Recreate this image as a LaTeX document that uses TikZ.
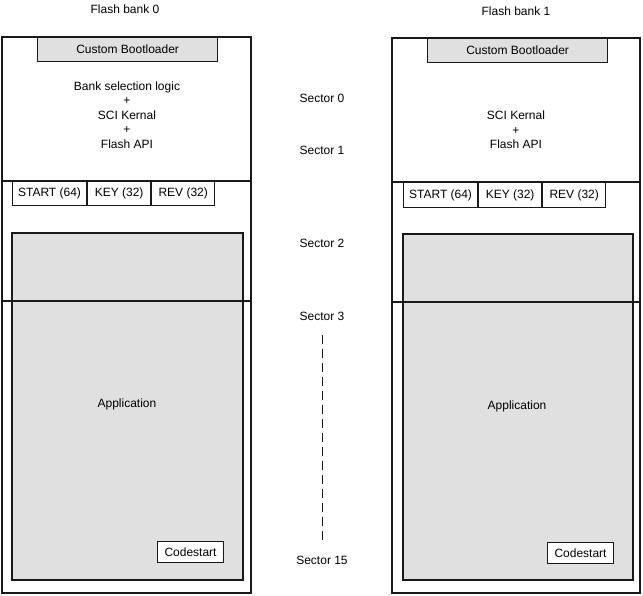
\documentclass[tikz,border=0pt]{standalone}
\usepackage{fontspec}
\setmainfont{Liberation Sans}
\begin{document}
\begin{tikzpicture}[x=1pt,y=-1pt,
  box/.style={draw=black!90,line width=1.3pt},
  gray/.style={box,fill=black!12},
  cell/.style={draw=black!90,line width=1.1pt,fill=white,inner sep=0pt,anchor=north west,font=\fontsize{12}{14}\selectfont},
  txt/.style={font=\fontsize{12}{14.5}\selectfont,align=center,inner sep=0pt},
  div/.style={draw=black!90,line width=1.6pt}]
\useasboundingbox (0,0) rectangle (643,596);
% Bank 0
\node[txt] (t0) at (125,9) {Flash bank 0};
\draw[box] (2,37) rectangle (251,593);
\node[gray,minimum width=180pt,minimum height=24pt,inner sep=0pt,anchor=north west,font=\fontsize{12}{14}\selectfont] (bl0) at (37,37) {Custom Bootloader};
\node[txt] (k0) at (127,115) {Bank selection logic\\+\\SCI Kernal\\+\\Flash API};
\draw[div] (2,181) -- (251,181);
\node[cell,minimum width=74pt,minimum height=24pt] (s0) at (12,181) {START (64)};
\node[cell,minimum width=63pt,minimum height=24pt] (ky0) at (s0.north east) {KEY (32)};
\node[cell,minimum width=63pt,minimum height=24pt] (r0) at (ky0.north east) {REV (32)};
\draw[gray] (12,233) rectangle (243,580);
\draw[div] (2,301) -- (251,301);
\node[txt] (a0) at (127,404) {Application};
\node[cell,minimum width=66pt,minimum height=21pt] (c0) at (157,541) {Codestart};
% Bank 1
\node[txt] (t1) at (516,11) {Flash bank 1};
\draw[box] (392,38) rectangle (640,593);
\node[gray,minimum width=180pt,minimum height=24pt,inner sep=0pt,anchor=north west,font=\fontsize{12}{14}\selectfont] (bl1) at (427,38) {Custom Bootloader};
\node[txt] (k1) at (516,130) {SCI Kernal\\+\\Flash API};
\draw[div] (392,182) -- (640,182);
\node[cell,minimum width=74pt,minimum height=25pt] (s1) at (403,182) {START (64)};
\node[cell,minimum width=63pt,minimum height=25pt] (ky1) at (s1.north east) {KEY (32)};
\node[cell,minimum width=63pt,minimum height=25pt] (r1) at (ky1.north east) {REV (32)};
\draw[gray] (403,234) rectangle (633,580);
\draw[div] (392,302) -- (640,302);
\node[txt] (a1) at (517,406) {Application};
\node[cell,minimum width=66pt,minimum height=21pt] (c1) at (547,542) {Codestart};
% Sectors
\node[txt] (sec0) at (322,98) {Sector 0};
\node[txt] (sec1) at (322,150) {Sector 1};
\node[txt] (sec2) at (322,243) {Sector 2};
\node[txt] (sec3) at (322,316) {Sector 3};
\node[txt] (sec15) at (322,560) {Sector 15};
\coordinate (d1) at (322,335);
\coordinate (d2) at (322,540);
\draw[black!90,line width=1pt,dash pattern=on 9pt off 5pt] (d1) -- (d2);
\end{tikzpicture}
\end{document}
